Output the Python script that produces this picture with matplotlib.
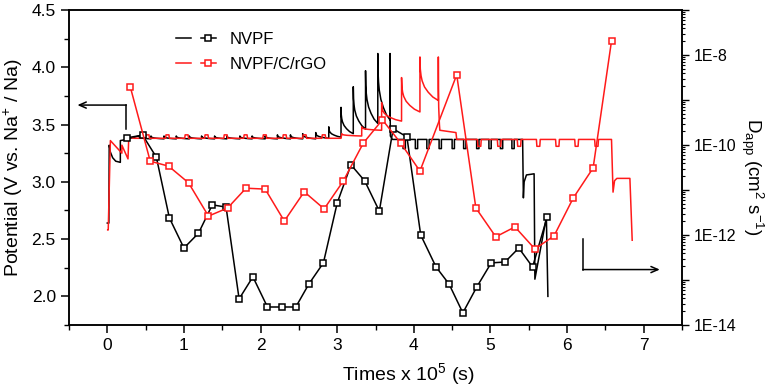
import matplotlib
matplotlib.use("Agg")
import matplotlib.pyplot as plt
from matplotlib.ticker import MultipleLocator, LogLocator, FuncFormatter, NullFormatter
from matplotlib.legend_handler import HandlerTuple
import numpy as np

plt.rcParams['font.family'] = ['Liberation Sans', 'DejaVu Sans']
plt.rcParams['mathtext.fontset'] = 'custom'
plt.rcParams['mathtext.rm'] = 'Liberation Sans'
plt.rcParams['mathtext.it'] = 'Liberation Sans:italic'

# ---------------- Data: apparent diffusion coefficient (right axis) ----------------
nvpf_d_time = [0.26, 0.46, 0.64, 0.81, 1.00, 1.19, 1.37, 1.55, 1.72, 1.90, 2.09, 2.28, 2.46,
               2.63, 2.82, 3.00, 3.18, 3.36, 3.55, 3.73, 3.91, 4.09, 4.29, 4.46, 4.64, 4.82,
               5.01, 5.19, 5.37, 5.55, 5.74]
nvpf_d_log = [-9.84, -9.78, -10.27, -11.62, -12.29, -11.96, -11.33, -11.38, -13.42, -12.93,
              -13.60, -13.60, -13.60, -13.09, -12.62, -11.29, -10.44, -10.80, -11.47, -9.64,
              -9.82, -12.00, -12.71, -13.09, -13.73, -13.16, -12.62, -12.60, -12.29, -12.71,
              -11.60]

rgo_d_time = [0.30, 0.56, 0.80, 1.06, 1.32, 1.57, 1.81, 2.06, 2.31, 2.57, 2.83, 3.08, 3.34,
              3.59, 3.83, 4.08, 4.56, 4.81, 5.07, 5.32, 5.58, 5.83, 6.08, 6.34, 6.58]
rgo_d_log = [-8.71, -10.36, -10.47, -10.84, -11.58, -11.40, -10.96, -10.98, -11.69, -11.04,
             -11.42, -10.80, -9.96, -9.44, -9.96, -10.58, -8.44, -11.40, -12.04, -11.82,
             -12.31, -12.02, -11.18, -10.51, -7.69]

# ---------------- Data: GITT potential profiles (left axis) ----------------
# NVPF
nvpf_start_t = [0.00, 0.02, 0.025, 0.04, 0.07, 0.11, 0.17, 0.17, 0.25]
nvpf_start_v = [2.64, 2.64, 3.32, 3.26, 3.21, 3.18, 3.17, 3.36, 3.37]
nvpf_chg_t = [0.41, 0.57, 0.74, 0.90, 1.07, 1.23, 1.40, 1.56, 1.73, 1.89, 2.06, 2.22, 2.39,
              2.55, 2.72, 2.89, 3.05, 3.21, 3.37, 3.53, 3.69]
nvpf_chg_peak = [3.40, 3.40, 3.40, 3.40, 3.40, 3.40, 3.40, 3.40, 3.40, 3.40, 3.40, 3.41, 3.41,
                 3.42, 3.43, 3.48, 3.65, 3.83, 3.97, 4.12, 4.12]
nvpf_chg_rest = [3.375, 3.375, 3.375, 3.375, 3.375, 3.375, 3.375, 3.375, 3.375, 3.375, 3.375,
                 3.375, 3.375, 3.375, 3.38, 3.39, 3.42, 3.46, 3.51, 3.54, 3.40]
nvpf_dis_notch_t = [3.86, 4.02, 4.17, 4.33, 4.50, 4.65, 4.82, 4.98, 5.13, 5.28]
nvpf_dis_plateau = 3.37
nvpf_dis_low = 3.29
nvpf_end_t = [5.42, 5.43, 5.44, 5.47, 5.57, 5.58, 5.73, 5.75]
nvpf_end_v = [3.37, 2.86, 3.00, 3.06, 3.07, 2.15, 2.69, 2.00]

# NVPF/C/rGO
rgo_start_t = [0.005, 0.012, 0.04, 0.19, 0.19, 0.27, 0.28, 0.35]
rgo_start_v = [2.58, 2.58, 3.36, 3.25, 3.32, 3.20, 3.39, 3.38]
rgo_bump_t = [0.50, 0.76, 1.01, 1.27, 1.52, 1.78, 2.03, 2.29, 2.55, 2.80]
rgo_bump_base = 3.38
rgo_bump_top = 3.41
rgo_spk_t = [3.06, 3.32, 3.58, 3.84, 4.08, 4.32]
rgo_spk_peak = [3.42, 3.48, 3.69, 3.91, 4.09, 4.09]
rgo_spk_rest = [3.40, 3.45, 3.53, 3.61, 3.71, 3.45]
rgo_after_t = [4.55, 4.56]
rgo_after_v = [3.43, 3.37]
rgo_dis_notch_t = [4.83, 5.09, 5.35, 5.60, 5.85, 6.10, 6.36]
rgo_dis_plateau = 3.37
rgo_dis_low = 3.31
rgo_end_t = [6.58, 6.60, 6.62, 6.65, 6.82, 6.85]
rgo_end_v = [3.37, 2.91, 3.01, 3.03, 3.03, 2.49]

# relaxation shape (fraction of interval, fraction of overshoot remaining)
PROFILE_S = [0.0, 0.02, 0.06, 0.12, 0.25, 0.45, 0.70, 1.0]
PROFILE_G = [1.0, 0.72, 0.57, 0.45, 0.31, 0.19, 0.08, 0.0]


def add_spikes(ts, vs, times, peaks, rests, last_dt=0.01):
    for i, t0 in enumerate(times):
        t1 = times[i + 1] if i + 1 < len(times) else t0 + last_dt
        ts.append(t0); vs.append(peaks[i])
        for s, g in zip(PROFILE_S[1:], PROFILE_G[1:]):
            ts.append(t0 + s * (t1 - t0)); vs.append(rests[i] + g * (peaks[i] - rests[i]))


def add_notches(ts, vs, times, base, low, width, rounded=False):
    for t0 in times:
        if rounded:
            ts += [t0, t0 + 0.006, t0 + width - 0.006, t0 + width]
            vs += [base, low, low, base]
        else:
            ts += [t0, t0, t0 + width, t0 + width]
            vs += [base, low, low, base]


# build NVPF potential path
nv_t, nv_v = list(nvpf_start_t), list(nvpf_start_v)
add_spikes(nv_t, nv_v, nvpf_chg_t, nvpf_chg_peak, nvpf_chg_rest, last_dt=0.004)
nv_t.append(3.72); nv_v.append(nvpf_dis_plateau)
add_notches(nv_t, nv_v, nvpf_dis_notch_t, nvpf_dis_plateau, nvpf_dis_low, 0.03)
nv_t += nvpf_end_t; nv_v += nvpf_end_v

# build NVPF/C/rGO potential path
rg_t, rg_v = list(rgo_start_t), list(rgo_start_v)
add_notches(rg_t, rg_v, rgo_bump_t, rgo_bump_base, rgo_bump_top, 0.05, rounded=True)
rg_t.append(3.05); rg_v.append(rgo_bump_base)
add_spikes(rg_t, rg_v, rgo_spk_t, rgo_spk_peak, rgo_spk_rest, last_dt=0.02)
rg_t += rgo_after_t; rg_v += rgo_after_v
add_notches(rg_t, rg_v, rgo_dis_notch_t, rgo_dis_plateau, rgo_dis_low, 0.05, rounded=True)
rg_t += rgo_end_t; rg_v += rgo_end_v

# ---------------- Figure ----------------
RED = '#ff1a1a'
fig = plt.figure(figsize=(7.71, 3.87), dpi=100)
ax = fig.add_axes([69 / 771, 1 - 325 / 387, 613 / 771, 315 / 387])
ax2 = ax.twinx()

l_nv, = ax.plot(nv_t, nv_v, color='black', lw=1.1)
l_rg, = ax.plot(rg_t, rg_v, color=RED, lw=1.1)

d_nv, = ax2.plot(nvpf_d_time, 10.0 ** np.array(nvpf_d_log), color='black', lw=1.1,
                 marker='s', ms=4.8, mfc='white', mec='black', mew=1.1)
d_rg, = ax2.plot(rgo_d_time, 10.0 ** np.array(rgo_d_log), color=RED, lw=1.1,
                 marker='s', ms=4.8, mfc='white', mec=RED, mew=1.1)

# axes limits / ticks
ax.set_xlim(-0.5, 7.5)
ax.set_ylim(1.75, 4.5)
ax.xaxis.set_major_locator(MultipleLocator(1))
ax.xaxis.set_minor_locator(MultipleLocator(0.5))
ax.yaxis.set_major_locator(MultipleLocator(0.5))
ax.yaxis.set_minor_locator(MultipleLocator(0.25))
ax.yaxis.set_major_formatter(FuncFormatter(lambda v, p: f'{v:.1f}'))
ax.tick_params(axis='both', which='major', direction='out', length=6, width=1.1,
               labelsize=12.5)
ax.tick_params(axis='both', which='minor', direction='out', length=3.5, width=1.0)
ax.tick_params(axis='x', which='both', top=False)
ax.tick_params(axis='y', which='both', right=False)

ax2.set_yscale('log')
ax2.set_ylim(1e-14, 1e-7)
ax2.yaxis.set_major_locator(LogLocator(base=10, numticks=20))
ax2.yaxis.set_minor_locator(LogLocator(base=10, subs=np.arange(2, 10), numticks=50))


def dfmt(v, p):
    e = int(round(np.log10(v)))
    return f'1E{e}' if e % 2 == 0 else ''


ax2.yaxis.set_major_formatter(FuncFormatter(dfmt))
ax2.yaxis.set_minor_formatter(NullFormatter())
ax2.tick_params(axis='y', which='major', direction='out', length=5, width=1.0, labelsize=11.5)
ax2.tick_params(axis='y', which='minor', direction='out', length=2.5, width=0.8)

for a in (ax, ax2):
    for s in a.spines.values():
        s.set_linewidth(1.1)

# labels
ax.set_ylabel('Potential (V vs. Na$^{+}$ / Na)', fontsize=14)
ax.yaxis.set_label_coords(-0.072, 0.5)
ax.set_xlabel('Times x 10$^{5}$ (s)', fontsize=14)
ax.xaxis.set_label_coords(0.553, -0.115)
ax2.set_ylabel('D$_{\\mathrm{app}}$ (cm$^{2}$ s$^{-1}$)', fontsize=13.5, rotation=270,
               va='bottom')
ax2.yaxis.set_label_coords(1.093, 0.47)

# arrows
arrow_left_x0, arrow_left_x1 = 0.248, -0.39
arrow_left_ytop, arrow_left_ybot = 3.67, 3.46
ax.plot([arrow_left_x0, arrow_left_x0], [arrow_left_ybot, arrow_left_ytop], color='black', lw=1.1)
ax.annotate('', xy=(arrow_left_x1, arrow_left_ytop), xytext=(arrow_left_x0, arrow_left_ytop),
            arrowprops=dict(arrowstyle='->,head_length=0.5,head_width=0.22', lw=1.1,
                            color='black', shrinkA=0, shrinkB=0))
arrow_right_x0, arrow_right_x1 = 6.206, 7.21
arrow_right_ytop, arrow_right_ybot = 2.505, 2.234
ax.plot([arrow_right_x0, arrow_right_x0], [arrow_right_ybot, arrow_right_ytop], color='black', lw=1.1)
ax.annotate('', xy=(arrow_right_x1, arrow_right_ybot), xytext=(arrow_right_x0, arrow_right_ybot),
            arrowprops=dict(arrowstyle='->,head_length=0.5,head_width=0.22', lw=1.1,
                            color='black', shrinkA=0, shrinkB=0))

# legend
leg = ax2.legend([(l_nv, d_nv), (l_rg, d_rg)], ['NVPF', 'NVPF/C/rGO'],
                 handler_map={tuple: HandlerTuple(ndivide=None, pad=0.6)},
                 loc='upper left', bbox_to_anchor=(0.150, 0.978), frameon=False,
                 fontsize=12, handlelength=2.4, handletextpad=0.85, labelspacing=0.6,
                 borderpad=0.4)

fig.savefig('out.png', dpi=100)
